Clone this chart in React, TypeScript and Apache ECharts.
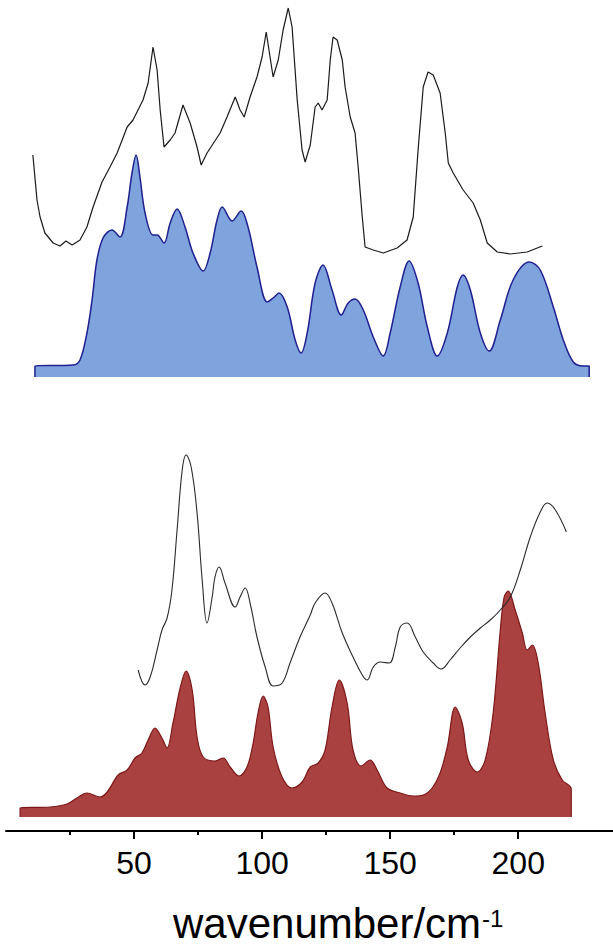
import React, { useEffect, useRef } from "react";
import * as echarts from "echarts";

// wavenumber (cm-1) vs intensity (arbitrary units, spectra vertically offset)
const expUpper: [number, number][] = [
  [10.5, 676], [12.1, 631], [13.3, 614], [15.2, 598], [18.4, 588], [21.1, 585], [23.4, 590],
  [25.8, 586], [28.9, 591], [31.6, 604], [34.0, 624], [37.5, 649], [40.6, 664], [43.4, 678],
  [47.3, 704], [49.6, 711], [53.5, 731], [55.5, 748], [57.4, 784], [59.0, 761], [60.2, 721],
  [61.7, 684], [64.1, 691], [66.0, 698], [69.1, 726], [71.9, 708], [74.6, 684], [76.2, 666],
  [78.5, 678], [83.6, 698], [86.3, 714], [89.5, 734], [91.4, 721], [93.0, 714], [95.3, 734],
  [98.0, 754], [100.0, 774], [101.6, 799], [103.1, 774], [104.3, 754], [106.3, 771], [108.2, 801],
  [110.2, 823], [111.7, 804], [113.7, 731], [115.6, 681], [116.8, 669], [118.8, 686], [120.7, 724],
  [121.9, 728], [123.4, 721], [125.4, 731], [126.6, 771], [127.7, 794], [129.3, 791], [131.3, 771],
  [132.4, 744], [134.4, 714], [136.3, 698], [137.5, 664], [139.1, 614], [140.2, 584], [143.4, 581],
  [147.3, 578], [152.7, 583], [156.6, 591], [159.0, 614], [160.9, 681], [162.9, 744], [164.8, 759],
  [166.8, 756], [169.5, 738], [171.5, 698], [172.7, 668], [174.6, 658], [178.5, 641], [182.4, 628],
  [185.2, 611], [187.9, 588], [191.8, 579], [196.9, 577], [203.5, 579], [209.4, 585],
];

const calcUpper: [number, number][] = [
  [11.3, 454], [11.3, 465], [26.2, 466], [28.9, 471], [31.6, 498], [33.6, 531], [35.5, 571],
  [37.9, 593], [41.4, 601], [44.5, 594], [47.3, 624], [49.2, 658], [50.8, 676], [52.3, 654],
  [54.3, 618], [57.4, 596], [59.0, 596], [61.7, 588], [64.1, 608], [66.8, 622], [69.9, 604],
  [73.0, 578], [77.0, 560], [79.7, 578], [82.4, 611], [84.4, 624], [88.3, 610], [91.8, 620],
  [94.5, 604], [98.0, 564], [102.0, 529], [104.3, 533], [106.6, 538], [109.8, 524], [112.9, 491],
  [115.2, 478], [117.6, 498], [120.7, 548], [123.8, 566], [127.3, 541], [130.9, 516], [133.6, 528],
  [136.3, 532], [139.5, 521], [143.4, 494], [147.3, 475], [150.0, 498], [153.9, 544], [157.4, 570],
  [160.9, 548], [164.5, 504], [168.4, 475], [172.3, 498], [176.2, 544], [178.5, 556], [181.3, 541],
  [185.2, 498], [188.7, 480], [193.0, 511], [198.0, 551], [204.3, 569], [208.6, 561], [213.7, 524],
  [217.6, 491], [221.5, 469], [225.4, 465], [227.7, 465], [227.7, 454],
];
const calcUpperBase = 454;

const expLower: [number, number][] = [
  [51.6, 161], [54.3, 146], [56.3, 154], [59.0, 181], [60.9, 201], [62.9, 213], [64.8, 241],
  [66.8, 301], [68.8, 361], [70.3, 376], [72.3, 364], [74.6, 318], [76.6, 251], [78.5, 208],
  [80.5, 234], [81.6, 254], [83.2, 264], [85.5, 248], [89.5, 224], [91.4, 234], [93.4, 243],
  [95.3, 228], [98.0, 194], [101.2, 164], [104.3, 145], [107.8, 148], [110.9, 168], [114.8, 194],
  [118.8, 216], [120.7, 228], [124.6, 238], [127.3, 228], [131.3, 198], [135.5, 174], [139.1, 156],
  [141.0, 151], [143.4, 164], [146.1, 169], [149.6, 168], [152.0, 184], [153.9, 204], [156.6, 208],
  [159.8, 194], [162.9, 179], [166.8, 168], [169.9, 162], [173.4, 171], [177.3, 183], [181.3, 194],
  [185.2, 203], [189.1, 211], [193.0, 221], [196.9, 234], [200.8, 261], [204.7, 294], [208.6, 319],
  [211.3, 328], [214.5, 321], [218.8, 299],
];

const calcLower: [number, number][] = [
  [5.5, 14], [5.5, 23], [17.2, 24], [23.8, 27], [27.7, 33], [31.6, 38], [36.7, 34], [39.5, 39],
  [43.8, 56], [47.3, 61], [50.4, 73], [53.1, 78], [55.5, 91], [58.2, 103], [60.9, 93], [62.9, 83],
  [65.2, 108], [68.0, 143], [70.3, 160], [72.7, 141], [74.6, 94], [77.0, 74], [81.6, 70], [84.8, 73],
  [87.5, 64], [91.0, 55], [94.1, 64], [96.5, 88], [98.4, 118], [100.4, 135], [102.3, 124],
  [104.3, 84], [107.8, 54], [111.7, 43], [115.6, 49], [118.8, 64], [121.9, 68], [124.6, 81],
  [127.3, 124], [130.1, 151], [133.2, 128], [135.5, 81], [138.7, 65], [142.2, 71], [144.9, 61],
  [148.8, 43], [153.9, 38], [159.0, 35], [162.9, 36], [166.4, 43], [169.5, 58], [172.3, 84],
  [175.4, 124], [178.1, 108], [180.5, 71], [184.0, 59], [187.1, 71], [190.2, 118], [193.0, 201],
  [194.5, 234], [196.1, 240], [198.8, 221], [201.6, 198], [203.5, 181], [205.5, 186], [207.8, 168],
  [210.5, 118], [213.7, 71], [217.2, 51], [220.7, 42], [220.7, 14],
];
const calcLowerBase = 14;

const majorTicks = [50, 100, 150, 200];
const minorTicks = [25, 75, 125, 175];
const xRange = [0, 237];
const yRange = [0, 831];

const FONT = "'Liberation Sans', Arial, Helvetica, sans-serif";

export default function App() {
  const ref = useRef<HTMLDivElement>(null);
  useEffect(() => {
    if (!ref.current) return;
    const chart = echarts.init(ref.current, undefined, { renderer: "svg" });
    chart.setOption({
      animation: false,
      backgroundColor: "#ffffff",
      grid: { left: 6, right: 0, top: 0, bottom: 117, containLabel: false },
      xAxis: [
        {
          type: "value",
          min: xRange[0],
          max: xRange[1],
          position: "bottom",
          axisLine: { show: true, lineStyle: { color: "#000", width: 2 } },
          axisTick: { show: true, customValues: majorTicks, length: 8, lineStyle: { color: "#000", width: 2 } },
          axisLabel: { show: true, customValues: majorTicks, fontSize: 32, color: "#000", fontFamily: FONT, margin: 16 },
          splitLine: { show: false },
        },
        {
          type: "value",
          min: xRange[0],
          max: xRange[1],
          position: "bottom",
          axisLine: { show: false },
          axisTick: { show: true, customValues: minorTicks, length: 4, lineStyle: { color: "#000", width: 2 } },
          axisLabel: { show: false },
          splitLine: { show: false },
        },
      ],
      yAxis: { type: "value", min: yRange[0], max: yRange[1], show: false },
      graphic: [
        {
          type: "text",
          x: 173,
          y: 923,
          style: {
            text: "{a|wavenumber/cm}{b|-1}",
            verticalAlign: "middle",
            rich: {
              a: { fontSize: 42, lineHeight: 36, fontFamily: FONT, fill: "#000" },
              b: { fontSize: 24, lineHeight: 24, fontFamily: FONT, fill: "#000", verticalAlign: "top", padding: [1, 0, 0, 1] },
            },
          },
        },
      ],
      series: [
        {
          type: "line",
          data: calcUpper,
          symbol: "none",
          smooth: 0.35,
          lineStyle: { color: "#1f1f8f", width: 1.5 },
          areaStyle: { color: "#7fa3dc", opacity: 1, origin: calcUpperBase },
          z: 2,
        },
        {
          type: "line",
          data: expUpper,
          symbol: "none",
          lineStyle: { color: "#1a1a1a", width: 1.2 },
          z: 3,
        },
        {
          type: "line",
          data: calcLower,
          symbol: "none",
          smooth: 0.35,
          lineStyle: { color: "#7d1818", width: 1.2 },
          areaStyle: { color: "#aa4141", opacity: 1, origin: calcLowerBase },
          z: 2,
        },
        {
          type: "line",
          data: expLower,
          symbol: "none",
          smooth: 0.4,
          lineStyle: { color: "#2a2a2a", width: 1.1 },
          z: 4,
        },
      ],
    });
    return () => chart.dispose();
  }, []);
  return (
    <div
      ref={ref}
      style={{ position: "fixed", left: 0, top: 0, width: 613, height: 948, background: "#fff" }}
    />
  );
}
